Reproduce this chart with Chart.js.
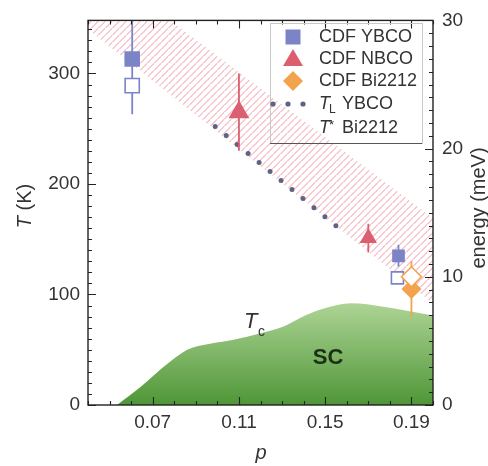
<!DOCTYPE html>
<html>
<head>
<meta charset="utf-8">
<script src="https://cdn.jsdelivr.net/npm/chart.js@4.4.0/dist/chart.umd.min.js"></script>
<style>
  html, body { margin: 0; padding: 0; background: #fff; }
  #phase { display: block; }
</style>
</head>
<body>
<canvas id="phase" width="488" height="466"></canvas>
<script>
// axis ticks
const pTicks = [0.07, 0.11, 0.15, 0.19];
const tTicks = [0, 100, 200, 300];
const eTicks = [0, 10, 20, 30];

// CDF YBCO, filled and open symbols
const ybcoP = [0.0605, 0.184];
const ybcoT = [313, 135];
const ybcoErr = [50, 10];
const ybcoOpenP = [0.0605, 0.1835];
const ybcoOpenT = [289, 115];

// CDF NBCO
const nbcoP = [0.11, 0.17];
const nbcoT = [265, 151];
const nbcoErr = [35, 13];

// CDF Bi2212
const biP = [0.19];
const biT = [105];
const biErr = [25];
const biOpenP = [0.19];
const biOpenT = [116];

// T_L YBCO
const tlP = [0.099, 0.1595];
const tlT = [252, 155];

// T* Bi2212 band (lower / upper edge)
const tsP = [0.04, 0.2];
const tsLow = [340, 92];
const tsHigh = [404, 169];

// Tc dome
const tcP = [0.0535, 0.0642, 0.0767, 0.086, 0.0953, 0.1075, 0.12, 0.1307, 0.1386, 0.149, 0.162, 0.177, 0.2];
const tcT = [0, 16, 37, 50, 55, 59, 65, 71, 79, 87, 92, 89, 81];

const blue = '#7c84c8';
const red = '#dc5f6f';
const orange = '#f3a24e';
const dotGrey = '#5e6384';
const txt = '#333';
const FONT = '"Liberation Sans", Arial, sans-serif';

function pts(ps, ts) {
  return ps.map((p, i) => ({ x: p, y: ts[i] }));
}

// vertical error bars as broken line segments
function bars(ps, ts, es) {
  const out = [];
  ps.forEach((p, i) => {
    out.push({ x: p, y: ts[i] - es[i] }, { x: p, y: ts[i] + es[i] }, { x: p, y: null });
  });
  return out;
}

const canvas = document.getElementById('phase');
const mainCtx = canvas.getContext('2d');

function hatch() {
  const s = 7.5;
  const c = document.createElement('canvas');
  c.width = s; c.height = s;
  const g = c.getContext('2d');
  g.strokeStyle = 'rgba(236,128,145,0.55)';
  g.lineWidth = 1.2;
  g.beginPath();
  g.moveTo(-1, s + 1); g.lineTo(s + 1, -1);
  g.moveTo(-1, 1); g.lineTo(1, -1);
  g.moveTo(s - 1, s + 1); g.lineTo(s + 1, s - 1);
  g.stroke();
  return mainCtx.createPattern(c, 'repeat');
}

function domeFill(c) {
  const { ctx, chartArea, scales } = c.chart;
  if (!chartArea) return '#8fc070';
  const g = ctx.createLinearGradient(0, scales.y.getPixelForValue(95), 0, scales.y.getPixelForValue(0));
  g.addColorStop(0, '#b0d698');
  g.addColorStop(1, '#4f9637');
  return g;
}

const isMajor = (v, list) => list.some(t => Math.abs(t - v) < 1e-9);

// frame with inward ticks on all four sides
const framePlugin = {
  id: 'frame',
  afterDraw(chart) {
    const { ctx, chartArea: a, scales } = chart;
    const { x, y, y2 } = scales;
    ctx.save();
    ctx.strokeStyle = '#222';
    ctx.lineWidth = 1.1;
    ctx.beginPath();
    for (let k = 4; k <= 20; k++) {
      const v = k / 100;
      const px = Math.round(x.getPixelForValue(v)) + 0.5;
      const len = isMajor(v, pTicks) ? 8 : 4;
      ctx.moveTo(px, a.bottom); ctx.lineTo(px, a.bottom - len);
      ctx.moveTo(px, a.top); ctx.lineTo(px, a.top + len);
    }
    for (let v = 0; v <= 340; v += 10) {
      const py = Math.round(y.getPixelForValue(v)) + 0.5;
      const len = isMajor(v, tTicks) ? 8 : 4;
      ctx.moveTo(a.left, py); ctx.lineTo(a.left + len, py);
    }
    for (let v = 0; v <= 30; v++) {
      const py = Math.round(y2.getPixelForValue(v)) + 0.5;
      const len = isMajor(v, eTicks) ? 8 : 4;
      ctx.moveTo(a.right, py); ctx.lineTo(a.right - len, py);
    }
    ctx.stroke();
    ctx.lineWidth = 1.4;
    ctx.strokeRect(a.left, a.top, a.right - a.left, a.bottom - a.top);
    ctx.restore();
  }
};

// axis titles, region labels and the legend box
const labelPlugin = {
  id: 'labels',
  afterDraw(chart) {
    const { ctx } = chart;
    ctx.save();
    ctx.fillStyle = txt;
    ctx.textBaseline = 'middle';

    // left title: T (K)
    ctx.save();
    ctx.translate(25, 206);
    ctx.rotate(-Math.PI / 2);
    ctx.font = 'italic 20px ' + FONT;
    const wT = ctx.measureText('T').width;
    ctx.font = '20px ' + FONT;
    const wK = ctx.measureText(' (K)').width;
    let sx = -(wT + wK) / 2;
    ctx.textAlign = 'left';
    ctx.font = 'italic 20px ' + FONT;
    ctx.fillText('T', sx, 0);
    ctx.font = '20px ' + FONT;
    ctx.fillText(' (K)', sx + wT, 0);
    ctx.restore();

    // right title
    ctx.save();
    ctx.translate(479, 208);
    ctx.rotate(-Math.PI / 2);
    ctx.font = '20px ' + FONT;
    ctx.textAlign = 'center';
    ctx.fillText('energy (meV)', 0, 0);
    ctx.restore();

    // bottom title
    ctx.font = 'italic 20px ' + FONT;
    ctx.textAlign = 'center';
    ctx.fillText('p', 261, 453);

    // Tc label
    ctx.font = 'italic 22px ' + FONT;
    ctx.textAlign = 'left';
    ctx.fillText('T', 244, 322);
    ctx.font = '14px ' + FONT;
    ctx.fillText('c', 258, 332);

    // SC label
    ctx.fillStyle = '#1b3015';
    ctx.font = 'bold 22px ' + FONT;
    ctx.textAlign = 'center';
    ctx.fillText('SC', 328, 358);

    // legend frame
    ctx.strokeStyle = '#c8c8c8';
    ctx.lineWidth = 1;
    ctx.strokeRect(270.5, 23.5, 152, 120);
    ctx.strokeStyle = '#555';
    ctx.beginPath();
    ctx.moveTo(270, 143.5); ctx.lineTo(422, 143.5);
    ctx.stroke();

    const sxL = 293;
    const rows = [37, 59, 81, 104, 128];
    ctx.fillStyle = blue;
    ctx.fillRect(sxL - 7.5, rows[0] - 7.5, 15, 15);
    ctx.fillStyle = red;
    ctx.beginPath();
    ctx.moveTo(sxL, rows[1] - 10); ctx.lineTo(sxL + 10, rows[1] + 7); ctx.lineTo(sxL - 10, rows[1] + 7);
    ctx.closePath(); ctx.fill();
    ctx.fillStyle = orange;
    ctx.beginPath();
    ctx.moveTo(sxL, rows[2] - 10); ctx.lineTo(sxL + 10, rows[2]); ctx.lineTo(sxL, rows[2] + 10); ctx.lineTo(sxL - 10, rows[2]);
    ctx.closePath(); ctx.fill();
    ctx.fillStyle = dotGrey;
    [273, 288, 303].forEach(dx => {
      ctx.beginPath(); ctx.arc(dx, rows[3], 2.6, 0, Math.PI * 2); ctx.fill();
    });

    ctx.fillStyle = txt;
    ctx.textAlign = 'left';
    ctx.font = '18px ' + FONT;
    ctx.fillText('CDF YBCO', 319, rows[0]);
    ctx.fillText('CDF NBCO', 319, rows[1]);
    ctx.fillText('CDF Bi2212', 319, rows[2]);
    ctx.font = 'italic 18px ' + FONT;
    ctx.fillText('T', 319, rows[3]);
    ctx.font = '12px ' + FONT;
    ctx.fillText('L', 329, rows[3] + 6);
    ctx.font = '18px ' + FONT;
    ctx.fillText('YBCO', 342, rows[3]);
    ctx.font = 'italic 18px ' + FONT;
    ctx.fillText('T', 319, rows[4]);
    ctx.font = '13px ' + FONT;
    ctx.fillText('*', 329, rows[4] - 3);
    ctx.font = '18px ' + FONT;
    ctx.fillText('Bi2212', 342, rows[4]);
    ctx.restore();
  }
};

const tickFont = { family: FONT, size: 19 };

new Chart(canvas, {
  type: 'scatter',
  data: {
    datasets: [
      { data: pts(biOpenP, biOpenT), pointStyle: 'rectRot', pointRadius: 10, backgroundColor: '#fff', borderColor: orange, borderWidth: 1.6, order: 1 },
      { data: pts(biP, biT), pointStyle: 'rectRot', pointRadius: 10, backgroundColor: orange, borderColor: orange, borderWidth: 0, order: 1 },
      { data: pts(ybcoOpenP, ybcoOpenT), pointStyle: 'rect', pointRadius: [10, 8.5], backgroundColor: '#fff', borderColor: blue, borderWidth: 1.6, order: 1 },
      { data: pts(ybcoP, ybcoT), pointStyle: 'rect', pointRadius: [11, 9], backgroundColor: blue, borderColor: blue, borderWidth: 0, order: 1 },
      { data: pts(nbcoP, nbcoT), pointStyle: 'triangle', pointRadius: [12, 10], backgroundColor: red, borderColor: red, borderWidth: 0, order: 1 },
      { data: bars(ybcoP, ybcoT, ybcoErr), showLine: true, spanGaps: false, borderColor: blue, borderWidth: 1.8, pointRadius: 0, order: 2 },
      { data: bars(nbcoP, nbcoT, nbcoErr), showLine: true, spanGaps: false, borderColor: red, borderWidth: 1.8, pointRadius: 0, order: 2 },
      { data: bars(biP, biT, biErr), showLine: true, spanGaps: false, borderColor: orange, borderWidth: 1.8, pointRadius: 0, order: 2 },
      { data: pts(tlP, tlT), showLine: true, borderColor: dotGrey, borderWidth: 5, borderDash: [0, 14.2], borderCapStyle: 'round', pointRadius: 0, order: 3 },
      { data: pts(tsP, tsLow), showLine: true, borderWidth: 0, pointRadius: 0, order: 4 },
      { data: pts(tsP, tsHigh), showLine: true, borderWidth: 0, pointRadius: 0, fill: '-1', backgroundColor: hatch(), order: 4 },
      { data: pts(tcP, tcT), showLine: true, borderWidth: 0, pointRadius: 0, fill: 'origin', backgroundColor: domeFill, cubicInterpolationMode: 'monotone', order: 5 }
    ]
  },
  options: {
    responsive: false,
    animation: false,
    layout: { padding: { top: 13, left: 0, right: 0, bottom: 0 } },
    plugins: { legend: { display: false }, tooltip: { enabled: false } },
    scales: {
      x: {
        type: 'linear', min: 0.04, max: 0.2,
        afterBuildTicks: s => { s.ticks = pTicks.map(v => ({ value: v })); },
        afterFit: s => { s.height = 61; },
        ticks: { font: tickFont, color: txt, padding: 6, maxRotation: 0, autoSkip: false, callback: v => v.toFixed(2) },
        grid: { display: false, drawTicks: false },
        border: { display: false }
      },
      y: {
        position: 'left', min: 0, max: 348,
        afterBuildTicks: s => { s.ticks = tTicks.map(v => ({ value: v })); },
        afterFit: s => { s.width = 88; },
        ticks: { font: tickFont, color: txt, padding: 8 },
        grid: { display: false, drawTicks: false },
        border: { display: false }
      },
      y2: {
        position: 'right', min: 0, max: 30,
        afterBuildTicks: s => { s.ticks = eTicks.map(v => ({ value: v })); },
        afterFit: s => { s.width = 55; },
        ticks: { font: tickFont, color: txt, padding: 9 },
        grid: { display: false, drawTicks: false },
        border: { display: false }
      }
    }
  },
  plugins: [framePlugin, labelPlugin]
});
</script>
</body>
</html>
